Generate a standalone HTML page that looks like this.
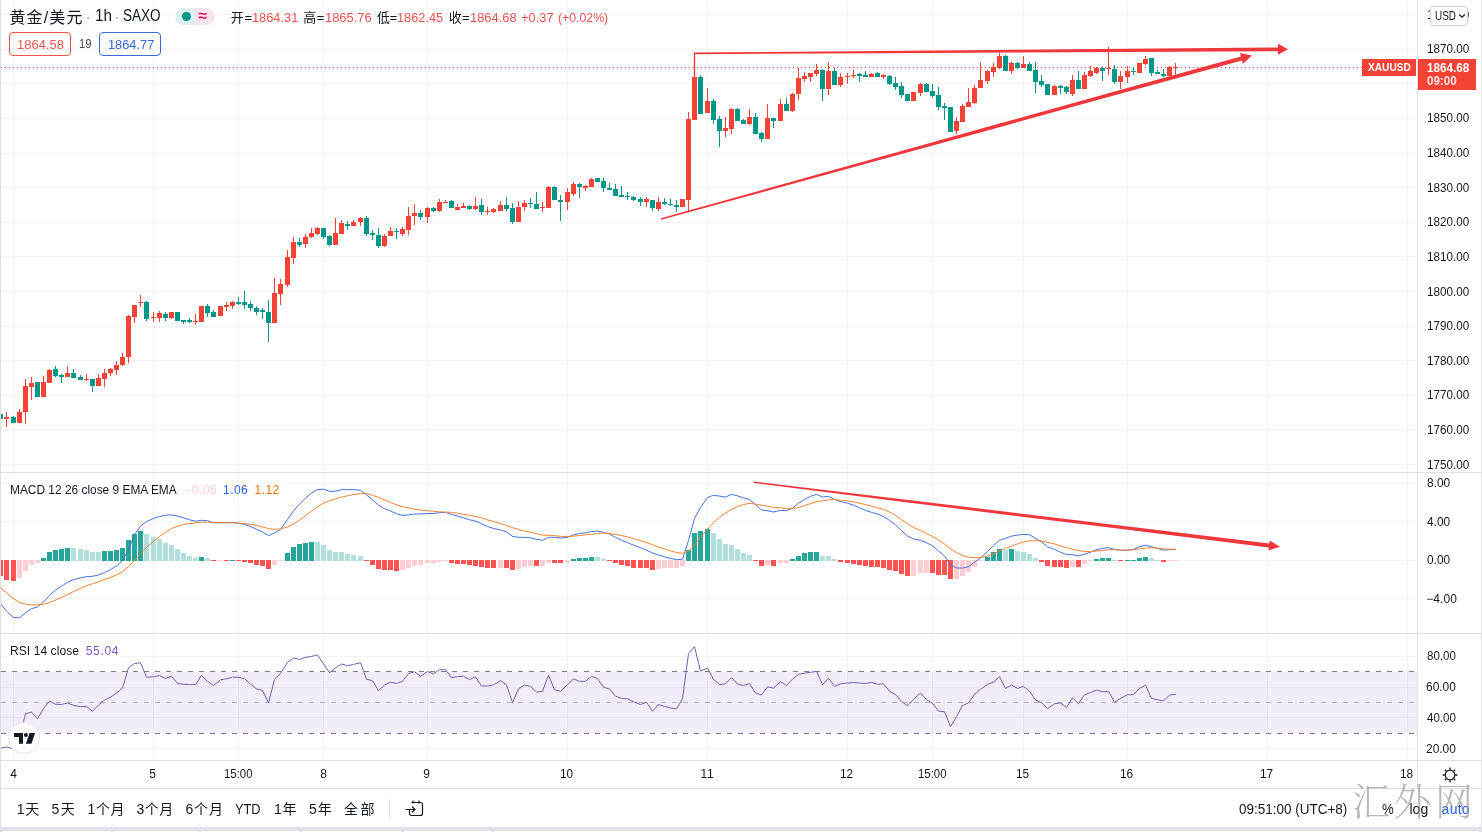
<!DOCTYPE html>
<html lang="zh-CN"><head><meta charset="utf-8"><title>XAUUSD 1h chart</title>
<style>
html,body{margin:0;padding:0;background:#fff;}
body{width:1482px;height:832px;overflow:hidden;position:relative;font-family:"Liberation Sans","Noto Sans CJK SC",sans-serif;color:#131722;}
#chart{position:absolute;left:0;top:0;}
.t{position:absolute;white-space:nowrap;}
.box{position:absolute;box-sizing:border-box;}
</style></head><body>
<svg id="chart" width="1482" height="832" viewBox="0 0 1482 832">
<g shape-rendering="crispEdges">
<rect x="13" y="0" width="1" height="760" fill="#f3f3f4"/>
<rect x="153" y="0" width="1" height="760" fill="#f3f3f4"/>
<rect x="238" y="0" width="1" height="760" fill="#f3f3f4"/>
<rect x="323" y="0" width="1" height="760" fill="#f3f3f4"/>
<rect x="427" y="0" width="1" height="760" fill="#f3f3f4"/>
<rect x="567" y="0" width="1" height="760" fill="#f3f3f4"/>
<rect x="707" y="0" width="1" height="760" fill="#f3f3f4"/>
<rect x="847" y="0" width="1" height="760" fill="#f3f3f4"/>
<rect x="932" y="0" width="1" height="760" fill="#f3f3f4"/>
<rect x="1023" y="0" width="1" height="760" fill="#f3f3f4"/>
<rect x="1127" y="0" width="1" height="760" fill="#f3f3f4"/>
<rect x="1267" y="0" width="1" height="760" fill="#f3f3f4"/>
<rect x="1407" y="0" width="1" height="760" fill="#f3f3f4"/>
<rect x="1" y="464" width="1415" height="1" fill="#f3f3f4"/>
<rect x="1" y="429" width="1415" height="1" fill="#f3f3f4"/>
<rect x="1" y="395" width="1415" height="1" fill="#f3f3f4"/>
<rect x="1" y="360" width="1415" height="1" fill="#f3f3f4"/>
<rect x="1" y="326" width="1415" height="1" fill="#f3f3f4"/>
<rect x="1" y="291" width="1415" height="1" fill="#f3f3f4"/>
<rect x="1" y="256" width="1415" height="1" fill="#f3f3f4"/>
<rect x="1" y="222" width="1415" height="1" fill="#f3f3f4"/>
<rect x="1" y="187" width="1415" height="1" fill="#f3f3f4"/>
<rect x="1" y="153" width="1415" height="1" fill="#f3f3f4"/>
<rect x="1" y="118" width="1415" height="1" fill="#f3f3f4"/>
<rect x="1" y="83" width="1415" height="1" fill="#f3f3f4"/>
<rect x="1" y="49" width="1415" height="1" fill="#f3f3f4"/>
<rect x="1" y="14" width="1415" height="1" fill="#f3f3f4"/>
<rect x="1" y="483" width="1415" height="1" fill="#f3f3f4"/>
<rect x="1" y="521" width="1415" height="1" fill="#f3f3f4"/>
<rect x="1" y="560" width="1415" height="1" fill="#f3f3f4"/>
<rect x="1" y="598" width="1415" height="1" fill="#f3f3f4"/>
<rect x="1" y="656" width="1415" height="1" fill="#f3f3f4"/>
<rect x="1" y="687" width="1415" height="1" fill="#f3f3f4"/>
<rect x="1" y="717" width="1415" height="1" fill="#f3f3f4"/>
<rect x="1" y="748" width="1415" height="1" fill="#f3f3f4"/>
<rect x="1" y="672" width="1416" height="61" fill="#7e57c2" fill-opacity="0.1"/>
</g>
<line x1="1" y1="671.5" x2="1417" y2="671.5" stroke="#787b86" stroke-width="1" stroke-dasharray="5 6" shape-rendering="crispEdges"/>
<line x1="1" y1="702.5" x2="1417" y2="702.5" stroke="#b2b5be" stroke-width="1" stroke-dasharray="5 6" shape-rendering="crispEdges"/>
<line x1="1" y1="733.5" x2="1417" y2="733.5" stroke="#787b86" stroke-width="1" stroke-dasharray="5 6" shape-rendering="crispEdges"/>
<line x1="1" y1="67.5" x2="1417" y2="67.5" stroke="#f44336" stroke-width="1" stroke-dasharray="1 3" shape-rendering="crispEdges"/>
<g shape-rendering="crispEdges">
<rect x="0" y="414" width="1" height="5" fill="#009688"/>
<rect x="1" y="414" width="2" height="5" fill="#009688"/>
<rect x="6" y="412" width="1" height="15" fill="#f44336"/>
<rect x="4" y="417" width="5" height="2" fill="#f44336"/>
<rect x="13" y="416" width="1" height="7" fill="#009688"/>
<rect x="11" y="417" width="5" height="6" fill="#009688"/>
<rect x="19" y="409" width="1" height="14" fill="#f44336"/>
<rect x="17" y="412" width="5" height="11" fill="#f44336"/>
<rect x="25" y="379" width="1" height="45" fill="#f44336"/>
<rect x="23" y="386" width="5" height="26" fill="#f44336"/>
<rect x="31" y="377" width="1" height="23" fill="#f44336"/>
<rect x="29" y="383" width="5" height="4" fill="#f44336"/>
<rect x="37" y="382" width="1" height="15" fill="#009688"/>
<rect x="35" y="382" width="5" height="15" fill="#009688"/>
<rect x="43" y="376" width="1" height="21" fill="#f44336"/>
<rect x="41" y="382" width="5" height="15" fill="#f44336"/>
<rect x="49" y="369" width="1" height="14" fill="#f44336"/>
<rect x="47" y="370" width="5" height="13" fill="#f44336"/>
<rect x="55" y="366" width="1" height="11" fill="#009688"/>
<rect x="53" y="369" width="5" height="7" fill="#009688"/>
<rect x="61" y="374" width="1" height="9" fill="#009688"/>
<rect x="59" y="375" width="5" height="2" fill="#009688"/>
<rect x="67" y="366" width="1" height="11" fill="#f44336"/>
<rect x="65" y="373" width="5" height="4" fill="#f44336"/>
<rect x="73" y="369" width="1" height="9" fill="#009688"/>
<rect x="71" y="373" width="5" height="5" fill="#009688"/>
<rect x="80" y="375" width="1" height="5" fill="#009688"/>
<rect x="78" y="377" width="5" height="3" fill="#009688"/>
<rect x="86" y="374" width="1" height="7" fill="#f44336"/>
<rect x="84" y="379" width="5" height="1" fill="#f44336"/>
<rect x="92" y="379" width="1" height="13" fill="#009688"/>
<rect x="90" y="379" width="5" height="7" fill="#009688"/>
<rect x="98" y="374" width="1" height="12" fill="#f44336"/>
<rect x="96" y="378" width="5" height="8" fill="#f44336"/>
<rect x="104" y="369" width="1" height="18" fill="#f44336"/>
<rect x="102" y="373" width="5" height="6" fill="#f44336"/>
<rect x="110" y="368" width="1" height="8" fill="#f44336"/>
<rect x="108" y="369" width="5" height="4" fill="#f44336"/>
<rect x="116" y="361" width="1" height="14" fill="#f44336"/>
<rect x="114" y="365" width="5" height="5" fill="#f44336"/>
<rect x="122" y="353" width="1" height="13" fill="#f44336"/>
<rect x="120" y="357" width="5" height="8" fill="#f44336"/>
<rect x="128" y="315" width="1" height="48" fill="#f44336"/>
<rect x="126" y="316" width="5" height="41" fill="#f44336"/>
<rect x="134" y="305" width="1" height="18" fill="#f44336"/>
<rect x="132" y="305" width="5" height="12" fill="#f44336"/>
<rect x="140" y="295" width="1" height="12" fill="#f44336"/>
<rect x="138" y="302" width="5" height="1" fill="#f44336"/>
<rect x="146" y="301" width="1" height="20" fill="#009688"/>
<rect x="144" y="302" width="5" height="17" fill="#009688"/>
<rect x="153" y="312" width="1" height="10" fill="#f44336"/>
<rect x="151" y="317" width="5" height="1" fill="#f44336"/>
<rect x="159" y="311" width="1" height="11" fill="#f44336"/>
<rect x="157" y="313" width="5" height="5" fill="#f44336"/>
<rect x="165" y="312" width="1" height="9" fill="#009688"/>
<rect x="163" y="314" width="5" height="4" fill="#009688"/>
<rect x="171" y="312" width="1" height="7" fill="#f44336"/>
<rect x="169" y="312" width="5" height="6" fill="#f44336"/>
<rect x="177" y="312" width="1" height="9" fill="#009688"/>
<rect x="175" y="312" width="5" height="9" fill="#009688"/>
<rect x="183" y="320" width="1" height="4" fill="#009688"/>
<rect x="181" y="320" width="5" height="2" fill="#009688"/>
<rect x="189" y="318" width="1" height="5" fill="#009688"/>
<rect x="187" y="320" width="5" height="2" fill="#009688"/>
<rect x="195" y="314" width="1" height="11" fill="#f44336"/>
<rect x="193" y="321" width="5" height="1" fill="#f44336"/>
<rect x="201" y="306" width="1" height="16" fill="#f44336"/>
<rect x="199" y="306" width="5" height="16" fill="#f44336"/>
<rect x="207" y="304" width="1" height="13" fill="#009688"/>
<rect x="205" y="306" width="5" height="7" fill="#009688"/>
<rect x="213" y="310" width="1" height="7" fill="#009688"/>
<rect x="211" y="312" width="5" height="5" fill="#009688"/>
<rect x="220" y="306" width="1" height="10" fill="#f44336"/>
<rect x="218" y="306" width="5" height="10" fill="#f44336"/>
<rect x="226" y="302" width="1" height="9" fill="#f44336"/>
<rect x="224" y="305" width="5" height="2" fill="#f44336"/>
<rect x="232" y="301" width="1" height="8" fill="#f44336"/>
<rect x="230" y="302" width="5" height="4" fill="#f44336"/>
<rect x="238" y="297" width="1" height="8" fill="#009688"/>
<rect x="236" y="302" width="5" height="2" fill="#009688"/>
<rect x="244" y="291" width="1" height="18" fill="#009688"/>
<rect x="242" y="302" width="5" height="3" fill="#009688"/>
<rect x="250" y="301" width="1" height="10" fill="#009688"/>
<rect x="248" y="304" width="5" height="4" fill="#009688"/>
<rect x="256" y="306" width="1" height="9" fill="#009688"/>
<rect x="254" y="308" width="5" height="4" fill="#009688"/>
<rect x="262" y="308" width="1" height="11" fill="#009688"/>
<rect x="260" y="310" width="5" height="2" fill="#009688"/>
<rect x="268" y="300" width="1" height="42" fill="#009688"/>
<rect x="266" y="312" width="5" height="11" fill="#009688"/>
<rect x="274" y="278" width="1" height="45" fill="#f44336"/>
<rect x="272" y="293" width="5" height="30" fill="#f44336"/>
<rect x="280" y="279" width="1" height="26" fill="#f44336"/>
<rect x="278" y="284" width="5" height="10" fill="#f44336"/>
<rect x="287" y="250" width="1" height="37" fill="#f44336"/>
<rect x="285" y="257" width="5" height="28" fill="#f44336"/>
<rect x="293" y="237" width="1" height="27" fill="#f44336"/>
<rect x="291" y="242" width="5" height="16" fill="#f44336"/>
<rect x="299" y="238" width="1" height="9" fill="#009688"/>
<rect x="297" y="242" width="5" height="3" fill="#009688"/>
<rect x="305" y="234" width="1" height="14" fill="#f44336"/>
<rect x="303" y="237" width="5" height="7" fill="#f44336"/>
<rect x="311" y="228" width="1" height="10" fill="#f44336"/>
<rect x="309" y="233" width="5" height="4" fill="#f44336"/>
<rect x="317" y="227" width="1" height="8" fill="#f44336"/>
<rect x="315" y="228" width="5" height="6" fill="#f44336"/>
<rect x="323" y="228" width="1" height="11" fill="#009688"/>
<rect x="321" y="228" width="5" height="9" fill="#009688"/>
<rect x="329" y="235" width="1" height="11" fill="#009688"/>
<rect x="327" y="236" width="5" height="9" fill="#009688"/>
<rect x="335" y="218" width="1" height="27" fill="#f44336"/>
<rect x="333" y="233" width="5" height="12" fill="#f44336"/>
<rect x="341" y="220" width="1" height="14" fill="#f44336"/>
<rect x="339" y="223" width="5" height="11" fill="#f44336"/>
<rect x="347" y="221" width="1" height="9" fill="#009688"/>
<rect x="345" y="224" width="5" height="2" fill="#009688"/>
<rect x="353" y="220" width="1" height="6" fill="#f44336"/>
<rect x="351" y="222" width="5" height="4" fill="#f44336"/>
<rect x="360" y="217" width="1" height="9" fill="#f44336"/>
<rect x="358" y="218" width="5" height="4" fill="#f44336"/>
<rect x="366" y="216" width="1" height="20" fill="#009688"/>
<rect x="364" y="218" width="5" height="16" fill="#009688"/>
<rect x="372" y="230" width="1" height="10" fill="#009688"/>
<rect x="370" y="233" width="5" height="2" fill="#009688"/>
<rect x="378" y="228" width="1" height="20" fill="#009688"/>
<rect x="376" y="235" width="5" height="11" fill="#009688"/>
<rect x="384" y="234" width="1" height="13" fill="#f44336"/>
<rect x="382" y="236" width="5" height="10" fill="#f44336"/>
<rect x="390" y="227" width="1" height="9" fill="#f44336"/>
<rect x="388" y="231" width="5" height="5" fill="#f44336"/>
<rect x="396" y="228" width="1" height="11" fill="#009688"/>
<rect x="394" y="231" width="5" height="1" fill="#009688"/>
<rect x="402" y="227" width="1" height="9" fill="#f44336"/>
<rect x="400" y="229" width="5" height="5" fill="#f44336"/>
<rect x="408" y="207" width="1" height="28" fill="#f44336"/>
<rect x="406" y="216" width="5" height="14" fill="#f44336"/>
<rect x="414" y="204" width="1" height="21" fill="#f44336"/>
<rect x="412" y="213" width="5" height="3" fill="#f44336"/>
<rect x="420" y="210" width="1" height="10" fill="#009688"/>
<rect x="418" y="213" width="5" height="4" fill="#009688"/>
<rect x="427" y="207" width="1" height="16" fill="#f44336"/>
<rect x="425" y="208" width="5" height="9" fill="#f44336"/>
<rect x="433" y="207" width="1" height="5" fill="#009688"/>
<rect x="431" y="208" width="5" height="3" fill="#009688"/>
<rect x="439" y="199" width="1" height="13" fill="#f44336"/>
<rect x="437" y="202" width="5" height="9" fill="#f44336"/>
<rect x="445" y="200" width="1" height="3" fill="#f44336"/>
<rect x="443" y="202" width="5" height="1" fill="#f44336"/>
<rect x="451" y="200" width="1" height="8" fill="#009688"/>
<rect x="449" y="201" width="5" height="7" fill="#009688"/>
<rect x="457" y="204" width="1" height="6" fill="#f44336"/>
<rect x="455" y="207" width="5" height="3" fill="#f44336"/>
<rect x="463" y="203" width="1" height="5" fill="#f44336"/>
<rect x="461" y="206" width="5" height="2" fill="#f44336"/>
<rect x="469" y="205" width="1" height="5" fill="#009688"/>
<rect x="467" y="206" width="5" height="3" fill="#009688"/>
<rect x="475" y="197" width="1" height="13" fill="#f44336"/>
<rect x="473" y="206" width="5" height="3" fill="#f44336"/>
<rect x="481" y="199" width="1" height="16" fill="#009688"/>
<rect x="479" y="205" width="5" height="7" fill="#009688"/>
<rect x="487" y="207" width="1" height="8" fill="#f44336"/>
<rect x="485" y="211" width="5" height="1" fill="#f44336"/>
<rect x="493" y="208" width="1" height="5" fill="#f44336"/>
<rect x="491" y="209" width="5" height="3" fill="#f44336"/>
<rect x="500" y="201" width="1" height="10" fill="#f44336"/>
<rect x="498" y="205" width="5" height="6" fill="#f44336"/>
<rect x="506" y="197" width="1" height="14" fill="#009688"/>
<rect x="504" y="205" width="5" height="4" fill="#009688"/>
<rect x="512" y="203" width="1" height="21" fill="#009688"/>
<rect x="510" y="208" width="5" height="14" fill="#009688"/>
<rect x="518" y="201" width="1" height="21" fill="#f44336"/>
<rect x="516" y="207" width="5" height="15" fill="#f44336"/>
<rect x="524" y="200" width="1" height="11" fill="#f44336"/>
<rect x="522" y="203" width="5" height="4" fill="#f44336"/>
<rect x="530" y="198" width="1" height="10" fill="#009688"/>
<rect x="528" y="203" width="5" height="1" fill="#009688"/>
<rect x="536" y="192" width="1" height="17" fill="#009688"/>
<rect x="534" y="204" width="5" height="5" fill="#009688"/>
<rect x="542" y="202" width="1" height="10" fill="#f44336"/>
<rect x="540" y="207" width="5" height="1" fill="#f44336"/>
<rect x="548" y="186" width="1" height="22" fill="#f44336"/>
<rect x="546" y="187" width="5" height="21" fill="#f44336"/>
<rect x="554" y="186" width="1" height="14" fill="#009688"/>
<rect x="552" y="187" width="5" height="13" fill="#009688"/>
<rect x="560" y="195" width="1" height="26" fill="#009688"/>
<rect x="558" y="200" width="5" height="2" fill="#009688"/>
<rect x="567" y="188" width="1" height="22" fill="#f44336"/>
<rect x="565" y="192" width="5" height="10" fill="#f44336"/>
<rect x="573" y="182" width="1" height="14" fill="#f44336"/>
<rect x="571" y="184" width="5" height="10" fill="#f44336"/>
<rect x="579" y="183" width="1" height="15" fill="#009688"/>
<rect x="577" y="184" width="5" height="3" fill="#009688"/>
<rect x="585" y="185" width="1" height="6" fill="#f44336"/>
<rect x="583" y="186" width="5" height="2" fill="#f44336"/>
<rect x="591" y="178" width="1" height="9" fill="#f44336"/>
<rect x="589" y="179" width="5" height="8" fill="#f44336"/>
<rect x="597" y="178" width="1" height="4" fill="#009688"/>
<rect x="595" y="178" width="5" height="4" fill="#009688"/>
<rect x="603" y="178" width="1" height="14" fill="#009688"/>
<rect x="601" y="181" width="5" height="7" fill="#009688"/>
<rect x="609" y="183" width="1" height="7" fill="#009688"/>
<rect x="607" y="188" width="5" height="2" fill="#009688"/>
<rect x="615" y="184" width="1" height="12" fill="#009688"/>
<rect x="613" y="189" width="5" height="7" fill="#009688"/>
<rect x="621" y="186" width="1" height="11" fill="#009688"/>
<rect x="619" y="195" width="5" height="2" fill="#009688"/>
<rect x="627" y="192" width="1" height="8" fill="#009688"/>
<rect x="625" y="196" width="5" height="1" fill="#009688"/>
<rect x="633" y="196" width="1" height="5" fill="#009688"/>
<rect x="631" y="197" width="5" height="3" fill="#009688"/>
<rect x="640" y="197" width="1" height="9" fill="#009688"/>
<rect x="638" y="199" width="5" height="3" fill="#009688"/>
<rect x="646" y="197" width="1" height="10" fill="#f44336"/>
<rect x="644" y="199" width="5" height="3" fill="#f44336"/>
<rect x="652" y="200" width="1" height="11" fill="#009688"/>
<rect x="650" y="200" width="5" height="8" fill="#009688"/>
<rect x="658" y="197" width="1" height="14" fill="#f44336"/>
<rect x="656" y="202" width="5" height="7" fill="#f44336"/>
<rect x="664" y="198" width="1" height="7" fill="#009688"/>
<rect x="662" y="202" width="5" height="2" fill="#009688"/>
<rect x="670" y="199" width="1" height="7" fill="#009688"/>
<rect x="668" y="204" width="5" height="1" fill="#009688"/>
<rect x="676" y="200" width="1" height="12" fill="#009688"/>
<rect x="674" y="205" width="5" height="2" fill="#009688"/>
<rect x="682" y="199" width="1" height="8" fill="#f44336"/>
<rect x="680" y="199" width="5" height="8" fill="#f44336"/>
<rect x="688" y="112" width="1" height="100" fill="#f44336"/>
<rect x="686" y="119" width="5" height="81" fill="#f44336"/>
<rect x="694" y="77" width="1" height="43" fill="#f44336"/>
<rect x="692" y="77" width="5" height="43" fill="#f44336"/>
<rect x="700" y="75" width="1" height="39" fill="#009688"/>
<rect x="698" y="77" width="5" height="37" fill="#009688"/>
<rect x="707" y="88" width="1" height="25" fill="#f44336"/>
<rect x="705" y="101" width="5" height="12" fill="#f44336"/>
<rect x="713" y="99" width="1" height="25" fill="#009688"/>
<rect x="711" y="101" width="5" height="19" fill="#009688"/>
<rect x="719" y="116" width="1" height="31" fill="#009688"/>
<rect x="717" y="119" width="5" height="12" fill="#009688"/>
<rect x="725" y="117" width="1" height="20" fill="#f44336"/>
<rect x="723" y="128" width="5" height="3" fill="#f44336"/>
<rect x="731" y="108" width="1" height="26" fill="#f44336"/>
<rect x="729" y="109" width="5" height="20" fill="#f44336"/>
<rect x="737" y="108" width="1" height="13" fill="#009688"/>
<rect x="735" y="109" width="5" height="12" fill="#009688"/>
<rect x="743" y="119" width="1" height="5" fill="#009688"/>
<rect x="741" y="120" width="5" height="4" fill="#009688"/>
<rect x="749" y="109" width="1" height="16" fill="#f44336"/>
<rect x="747" y="117" width="5" height="7" fill="#f44336"/>
<rect x="755" y="113" width="1" height="21" fill="#009688"/>
<rect x="753" y="117" width="5" height="17" fill="#009688"/>
<rect x="761" y="132" width="1" height="10" fill="#009688"/>
<rect x="759" y="133" width="5" height="6" fill="#009688"/>
<rect x="767" y="104" width="1" height="35" fill="#f44336"/>
<rect x="765" y="118" width="5" height="21" fill="#f44336"/>
<rect x="773" y="118" width="1" height="10" fill="#009688"/>
<rect x="771" y="118" width="5" height="3" fill="#009688"/>
<rect x="780" y="99" width="1" height="22" fill="#f44336"/>
<rect x="778" y="104" width="5" height="17" fill="#f44336"/>
<rect x="786" y="98" width="1" height="13" fill="#009688"/>
<rect x="784" y="104" width="5" height="7" fill="#009688"/>
<rect x="792" y="93" width="1" height="19" fill="#f44336"/>
<rect x="790" y="94" width="5" height="17" fill="#f44336"/>
<rect x="798" y="68" width="1" height="32" fill="#f44336"/>
<rect x="796" y="78" width="5" height="16" fill="#f44336"/>
<rect x="804" y="72" width="1" height="10" fill="#f44336"/>
<rect x="802" y="76" width="5" height="3" fill="#f44336"/>
<rect x="810" y="73" width="1" height="9" fill="#f44336"/>
<rect x="808" y="73" width="5" height="4" fill="#f44336"/>
<rect x="816" y="64" width="1" height="12" fill="#f44336"/>
<rect x="814" y="70" width="5" height="4" fill="#f44336"/>
<rect x="822" y="69" width="1" height="32" fill="#009688"/>
<rect x="820" y="70" width="5" height="19" fill="#009688"/>
<rect x="828" y="62" width="1" height="33" fill="#f44336"/>
<rect x="826" y="71" width="5" height="18" fill="#f44336"/>
<rect x="834" y="68" width="1" height="17" fill="#009688"/>
<rect x="832" y="71" width="5" height="14" fill="#009688"/>
<rect x="840" y="73" width="1" height="14" fill="#f44336"/>
<rect x="838" y="77" width="5" height="8" fill="#f44336"/>
<rect x="847" y="73" width="1" height="11" fill="#f44336"/>
<rect x="845" y="76" width="5" height="1" fill="#f44336"/>
<rect x="853" y="70" width="1" height="8" fill="#f44336"/>
<rect x="851" y="75" width="5" height="1" fill="#f44336"/>
<rect x="859" y="73" width="1" height="9" fill="#009688"/>
<rect x="857" y="74" width="5" height="2" fill="#009688"/>
<rect x="865" y="71" width="1" height="6" fill="#009688"/>
<rect x="863" y="75" width="5" height="2" fill="#009688"/>
<rect x="871" y="73" width="1" height="4" fill="#f44336"/>
<rect x="869" y="74" width="5" height="3" fill="#f44336"/>
<rect x="877" y="72" width="1" height="5" fill="#009688"/>
<rect x="875" y="73" width="5" height="4" fill="#009688"/>
<rect x="883" y="74" width="1" height="5" fill="#f44336"/>
<rect x="881" y="75" width="5" height="2" fill="#f44336"/>
<rect x="889" y="75" width="1" height="10" fill="#009688"/>
<rect x="887" y="76" width="5" height="8" fill="#009688"/>
<rect x="895" y="77" width="1" height="13" fill="#009688"/>
<rect x="893" y="83" width="5" height="4" fill="#009688"/>
<rect x="901" y="82" width="1" height="16" fill="#009688"/>
<rect x="899" y="86" width="5" height="9" fill="#009688"/>
<rect x="907" y="94" width="1" height="7" fill="#009688"/>
<rect x="905" y="94" width="5" height="7" fill="#009688"/>
<rect x="913" y="92" width="1" height="9" fill="#f44336"/>
<rect x="911" y="92" width="5" height="9" fill="#f44336"/>
<rect x="920" y="83" width="1" height="13" fill="#f44336"/>
<rect x="918" y="84" width="5" height="9" fill="#f44336"/>
<rect x="926" y="83" width="1" height="9" fill="#009688"/>
<rect x="924" y="84" width="5" height="8" fill="#009688"/>
<rect x="932" y="84" width="1" height="14" fill="#009688"/>
<rect x="930" y="91" width="5" height="5" fill="#009688"/>
<rect x="938" y="87" width="1" height="23" fill="#009688"/>
<rect x="936" y="95" width="5" height="12" fill="#009688"/>
<rect x="944" y="103" width="1" height="17" fill="#009688"/>
<rect x="942" y="106" width="5" height="2" fill="#009688"/>
<rect x="950" y="107" width="1" height="25" fill="#009688"/>
<rect x="948" y="107" width="5" height="25" fill="#009688"/>
<rect x="956" y="117" width="1" height="17" fill="#f44336"/>
<rect x="954" y="121" width="5" height="10" fill="#f44336"/>
<rect x="962" y="104" width="1" height="18" fill="#f44336"/>
<rect x="960" y="106" width="5" height="16" fill="#f44336"/>
<rect x="968" y="88" width="1" height="19" fill="#f44336"/>
<rect x="966" y="102" width="5" height="5" fill="#f44336"/>
<rect x="974" y="85" width="1" height="19" fill="#f44336"/>
<rect x="972" y="88" width="5" height="15" fill="#f44336"/>
<rect x="980" y="62" width="1" height="26" fill="#f44336"/>
<rect x="978" y="80" width="5" height="8" fill="#f44336"/>
<rect x="987" y="70" width="1" height="14" fill="#f44336"/>
<rect x="985" y="71" width="5" height="10" fill="#f44336"/>
<rect x="993" y="63" width="1" height="14" fill="#f44336"/>
<rect x="991" y="67" width="5" height="5" fill="#f44336"/>
<rect x="999" y="52" width="1" height="17" fill="#f44336"/>
<rect x="997" y="56" width="5" height="12" fill="#f44336"/>
<rect x="1005" y="55" width="1" height="16" fill="#009688"/>
<rect x="1003" y="56" width="5" height="15" fill="#009688"/>
<rect x="1011" y="62" width="1" height="12" fill="#f44336"/>
<rect x="1009" y="63" width="5" height="8" fill="#f44336"/>
<rect x="1017" y="62" width="1" height="7" fill="#009688"/>
<rect x="1015" y="63" width="5" height="5" fill="#009688"/>
<rect x="1023" y="56" width="1" height="12" fill="#f44336"/>
<rect x="1021" y="64" width="5" height="4" fill="#f44336"/>
<rect x="1029" y="62" width="1" height="9" fill="#009688"/>
<rect x="1027" y="64" width="5" height="7" fill="#009688"/>
<rect x="1035" y="62" width="1" height="31" fill="#009688"/>
<rect x="1033" y="70" width="5" height="12" fill="#009688"/>
<rect x="1041" y="75" width="1" height="12" fill="#009688"/>
<rect x="1039" y="81" width="5" height="4" fill="#009688"/>
<rect x="1047" y="84" width="1" height="11" fill="#009688"/>
<rect x="1045" y="84" width="5" height="11" fill="#009688"/>
<rect x="1054" y="85" width="1" height="10" fill="#f44336"/>
<rect x="1052" y="86" width="5" height="9" fill="#f44336"/>
<rect x="1060" y="85" width="1" height="9" fill="#009688"/>
<rect x="1058" y="86" width="5" height="2" fill="#009688"/>
<rect x="1066" y="86" width="1" height="8" fill="#009688"/>
<rect x="1064" y="87" width="5" height="5" fill="#009688"/>
<rect x="1072" y="75" width="1" height="21" fill="#f44336"/>
<rect x="1070" y="80" width="5" height="14" fill="#f44336"/>
<rect x="1078" y="71" width="1" height="18" fill="#009688"/>
<rect x="1076" y="80" width="5" height="9" fill="#009688"/>
<rect x="1084" y="72" width="1" height="17" fill="#f44336"/>
<rect x="1082" y="75" width="5" height="14" fill="#f44336"/>
<rect x="1090" y="66" width="1" height="11" fill="#f44336"/>
<rect x="1088" y="71" width="5" height="5" fill="#f44336"/>
<rect x="1096" y="67" width="1" height="7" fill="#f44336"/>
<rect x="1094" y="68" width="5" height="5" fill="#f44336"/>
<rect x="1102" y="67" width="1" height="14" fill="#009688"/>
<rect x="1100" y="68" width="5" height="3" fill="#009688"/>
<rect x="1108" y="47" width="1" height="28" fill="#f44336"/>
<rect x="1106" y="68" width="5" height="1" fill="#f44336"/>
<rect x="1114" y="65" width="1" height="19" fill="#009688"/>
<rect x="1112" y="69" width="5" height="13" fill="#009688"/>
<rect x="1120" y="71" width="1" height="18" fill="#f44336"/>
<rect x="1118" y="76" width="5" height="6" fill="#f44336"/>
<rect x="1127" y="66" width="1" height="17" fill="#f44336"/>
<rect x="1125" y="71" width="5" height="6" fill="#f44336"/>
<rect x="1133" y="67" width="1" height="8" fill="#009688"/>
<rect x="1131" y="71" width="5" height="1" fill="#009688"/>
<rect x="1139" y="63" width="1" height="10" fill="#f44336"/>
<rect x="1137" y="63" width="5" height="10" fill="#f44336"/>
<rect x="1145" y="56" width="1" height="9" fill="#f44336"/>
<rect x="1143" y="59" width="5" height="5" fill="#f44336"/>
<rect x="1151" y="58" width="1" height="18" fill="#009688"/>
<rect x="1149" y="58" width="5" height="15" fill="#009688"/>
<rect x="1157" y="70" width="1" height="4" fill="#009688"/>
<rect x="1155" y="72" width="5" height="2" fill="#009688"/>
<rect x="1163" y="69" width="1" height="8" fill="#009688"/>
<rect x="1161" y="74" width="5" height="2" fill="#009688"/>
<rect x="1169" y="66" width="1" height="10" fill="#f44336"/>
<rect x="1167" y="67" width="5" height="9" fill="#f44336"/>
<rect x="1175" y="63" width="1" height="12" fill="#f44336"/>
<rect x="1173" y="67" width="5" height="1" fill="#f44336"/>
</g>
<g shape-rendering="crispEdges">
<rect x="1" y="560" width="2" height="16" fill="#ff5252"/>
<rect x="4" y="560" width="5" height="20" fill="#ff5252"/>
<rect x="11" y="560" width="5" height="21" fill="#ff5252"/>
<rect x="17" y="560" width="5" height="18" fill="#ffcdd2"/>
<rect x="23" y="560" width="5" height="11" fill="#ffcdd2"/>
<rect x="29" y="560" width="5" height="5" fill="#ffcdd2"/>
<rect x="35" y="560" width="5" height="3" fill="#ffcdd2"/>
<rect x="41" y="558" width="5" height="3" fill="#26a69a"/>
<rect x="47" y="552" width="5" height="9" fill="#26a69a"/>
<rect x="53" y="550" width="5" height="11" fill="#26a69a"/>
<rect x="59" y="549" width="5" height="12" fill="#26a69a"/>
<rect x="65" y="548" width="5" height="13" fill="#26a69a"/>
<rect x="71" y="548" width="5" height="13" fill="#b2dfdb"/>
<rect x="78" y="549" width="5" height="12" fill="#b2dfdb"/>
<rect x="84" y="550" width="5" height="11" fill="#b2dfdb"/>
<rect x="90" y="552" width="5" height="9" fill="#b2dfdb"/>
<rect x="96" y="552" width="5" height="9" fill="#b2dfdb"/>
<rect x="102" y="551" width="5" height="10" fill="#26a69a"/>
<rect x="108" y="551" width="5" height="10" fill="#26a69a"/>
<rect x="114" y="550" width="5" height="11" fill="#26a69a"/>
<rect x="120" y="548" width="5" height="13" fill="#26a69a"/>
<rect x="126" y="540" width="5" height="21" fill="#26a69a"/>
<rect x="132" y="534" width="5" height="27" fill="#26a69a"/>
<rect x="138" y="531" width="5" height="30" fill="#26a69a"/>
<rect x="144" y="534" width="5" height="27" fill="#b2dfdb"/>
<rect x="151" y="537" width="5" height="24" fill="#b2dfdb"/>
<rect x="157" y="539" width="5" height="22" fill="#b2dfdb"/>
<rect x="163" y="543" width="5" height="18" fill="#b2dfdb"/>
<rect x="169" y="545" width="5" height="16" fill="#b2dfdb"/>
<rect x="175" y="549" width="5" height="12" fill="#b2dfdb"/>
<rect x="181" y="553" width="5" height="8" fill="#b2dfdb"/>
<rect x="187" y="556" width="5" height="5" fill="#b2dfdb"/>
<rect x="193" y="558" width="5" height="3" fill="#b2dfdb"/>
<rect x="199" y="557" width="5" height="4" fill="#26a69a"/>
<rect x="205" y="558" width="5" height="3" fill="#b2dfdb"/>
<rect x="211" y="560" width="5" height="1" fill="#ff5252"/>
<rect x="218" y="560" width="5" height="1" fill="#ffcdd2"/>
<rect x="224" y="560" width="5" height="1" fill="#ff5252"/>
<rect x="230" y="560" width="5" height="1" fill="#26a69a"/>
<rect x="236" y="560" width="5" height="1" fill="#ff5252"/>
<rect x="242" y="560" width="5" height="2" fill="#ff5252"/>
<rect x="248" y="560" width="5" height="3" fill="#ff5252"/>
<rect x="254" y="560" width="5" height="5" fill="#ff5252"/>
<rect x="260" y="560" width="5" height="6" fill="#ff5252"/>
<rect x="266" y="560" width="5" height="9" fill="#ff5252"/>
<rect x="272" y="560" width="5" height="5" fill="#ffcdd2"/>
<rect x="278" y="560" width="5" height="1" fill="#ffcdd2"/>
<rect x="285" y="553" width="5" height="8" fill="#26a69a"/>
<rect x="291" y="547" width="5" height="14" fill="#26a69a"/>
<rect x="297" y="544" width="5" height="17" fill="#26a69a"/>
<rect x="303" y="543" width="5" height="18" fill="#26a69a"/>
<rect x="309" y="542" width="5" height="19" fill="#26a69a"/>
<rect x="315" y="542" width="5" height="19" fill="#b2dfdb"/>
<rect x="321" y="545" width="5" height="16" fill="#b2dfdb"/>
<rect x="327" y="550" width="5" height="11" fill="#b2dfdb"/>
<rect x="333" y="552" width="5" height="9" fill="#b2dfdb"/>
<rect x="339" y="552" width="5" height="9" fill="#b2dfdb"/>
<rect x="345" y="554" width="5" height="7" fill="#b2dfdb"/>
<rect x="351" y="555" width="5" height="6" fill="#b2dfdb"/>
<rect x="358" y="556" width="5" height="5" fill="#b2dfdb"/>
<rect x="364" y="560" width="5" height="1" fill="#ff5252"/>
<rect x="370" y="560" width="5" height="5" fill="#ff5252"/>
<rect x="376" y="560" width="5" height="9" fill="#ff5252"/>
<rect x="382" y="560" width="5" height="10" fill="#ff5252"/>
<rect x="388" y="560" width="5" height="10" fill="#ff5252"/>
<rect x="394" y="560" width="5" height="11" fill="#ff5252"/>
<rect x="400" y="560" width="5" height="10" fill="#ffcdd2"/>
<rect x="406" y="560" width="5" height="8" fill="#ffcdd2"/>
<rect x="412" y="560" width="5" height="6" fill="#ffcdd2"/>
<rect x="418" y="560" width="5" height="5" fill="#ffcdd2"/>
<rect x="425" y="560" width="5" height="3" fill="#ffcdd2"/>
<rect x="431" y="560" width="5" height="3" fill="#ffcdd2"/>
<rect x="437" y="560" width="5" height="2" fill="#ffcdd2"/>
<rect x="443" y="560" width="5" height="1" fill="#ffcdd2"/>
<rect x="449" y="560" width="5" height="3" fill="#ff5252"/>
<rect x="455" y="560" width="5" height="4" fill="#ff5252"/>
<rect x="461" y="560" width="5" height="4" fill="#ff5252"/>
<rect x="467" y="560" width="5" height="5" fill="#ff5252"/>
<rect x="473" y="560" width="5" height="6" fill="#ff5252"/>
<rect x="479" y="560" width="5" height="7" fill="#ff5252"/>
<rect x="485" y="560" width="5" height="8" fill="#ff5252"/>
<rect x="491" y="560" width="5" height="8" fill="#ff5252"/>
<rect x="498" y="560" width="5" height="8" fill="#ffcdd2"/>
<rect x="504" y="560" width="5" height="8" fill="#ff5252"/>
<rect x="510" y="560" width="5" height="10" fill="#ff5252"/>
<rect x="516" y="560" width="5" height="9" fill="#ffcdd2"/>
<rect x="522" y="560" width="5" height="7" fill="#ffcdd2"/>
<rect x="528" y="560" width="5" height="6" fill="#ffcdd2"/>
<rect x="534" y="560" width="5" height="6" fill="#ff5252"/>
<rect x="540" y="560" width="5" height="6" fill="#ffcdd2"/>
<rect x="546" y="560" width="5" height="3" fill="#ffcdd2"/>
<rect x="552" y="560" width="5" height="3" fill="#ff5252"/>
<rect x="558" y="560" width="5" height="3" fill="#ff5252"/>
<rect x="565" y="560" width="5" height="2" fill="#ffcdd2"/>
<rect x="571" y="559" width="5" height="2" fill="#26a69a"/>
<rect x="577" y="558" width="5" height="3" fill="#26a69a"/>
<rect x="583" y="558" width="5" height="3" fill="#26a69a"/>
<rect x="589" y="557" width="5" height="4" fill="#26a69a"/>
<rect x="595" y="557" width="5" height="4" fill="#b2dfdb"/>
<rect x="601" y="559" width="5" height="2" fill="#b2dfdb"/>
<rect x="607" y="560" width="5" height="1" fill="#ff5252"/>
<rect x="613" y="560" width="5" height="3" fill="#ff5252"/>
<rect x="619" y="560" width="5" height="5" fill="#ff5252"/>
<rect x="625" y="560" width="5" height="6" fill="#ff5252"/>
<rect x="631" y="560" width="5" height="8" fill="#ff5252"/>
<rect x="638" y="560" width="5" height="8" fill="#ff5252"/>
<rect x="644" y="560" width="5" height="8" fill="#ff5252"/>
<rect x="650" y="560" width="5" height="10" fill="#ff5252"/>
<rect x="656" y="560" width="5" height="9" fill="#ffcdd2"/>
<rect x="662" y="560" width="5" height="8" fill="#ffcdd2"/>
<rect x="668" y="560" width="5" height="8" fill="#ffcdd2"/>
<rect x="674" y="560" width="5" height="8" fill="#ffcdd2"/>
<rect x="680" y="560" width="5" height="6" fill="#ffcdd2"/>
<rect x="686" y="550" width="5" height="11" fill="#26a69a"/>
<rect x="692" y="533" width="5" height="28" fill="#26a69a"/>
<rect x="698" y="531" width="5" height="30" fill="#26a69a"/>
<rect x="705" y="529" width="5" height="32" fill="#26a69a"/>
<rect x="711" y="533" width="5" height="28" fill="#b2dfdb"/>
<rect x="717" y="539" width="5" height="22" fill="#b2dfdb"/>
<rect x="723" y="544" width="5" height="17" fill="#b2dfdb"/>
<rect x="729" y="545" width="5" height="16" fill="#b2dfdb"/>
<rect x="735" y="549" width="5" height="12" fill="#b2dfdb"/>
<rect x="741" y="553" width="5" height="8" fill="#b2dfdb"/>
<rect x="747" y="555" width="5" height="6" fill="#b2dfdb"/>
<rect x="753" y="560" width="5" height="1" fill="#ff5252"/>
<rect x="759" y="560" width="5" height="6" fill="#ff5252"/>
<rect x="765" y="560" width="5" height="5" fill="#ffcdd2"/>
<rect x="771" y="560" width="5" height="6" fill="#ff5252"/>
<rect x="778" y="560" width="5" height="3" fill="#ffcdd2"/>
<rect x="784" y="560" width="5" height="3" fill="#ffcdd2"/>
<rect x="790" y="559" width="5" height="2" fill="#26a69a"/>
<rect x="796" y="556" width="5" height="5" fill="#26a69a"/>
<rect x="802" y="553" width="5" height="8" fill="#26a69a"/>
<rect x="808" y="552" width="5" height="9" fill="#26a69a"/>
<rect x="814" y="552" width="5" height="9" fill="#26a69a"/>
<rect x="820" y="556" width="5" height="5" fill="#b2dfdb"/>
<rect x="826" y="556" width="5" height="5" fill="#b2dfdb"/>
<rect x="832" y="559" width="5" height="2" fill="#b2dfdb"/>
<rect x="838" y="560" width="5" height="2" fill="#ff5252"/>
<rect x="845" y="560" width="5" height="3" fill="#ff5252"/>
<rect x="851" y="560" width="5" height="4" fill="#ff5252"/>
<rect x="857" y="560" width="5" height="5" fill="#ff5252"/>
<rect x="863" y="560" width="5" height="6" fill="#ff5252"/>
<rect x="869" y="560" width="5" height="7" fill="#ff5252"/>
<rect x="875" y="560" width="5" height="7" fill="#ff5252"/>
<rect x="881" y="560" width="5" height="8" fill="#ff5252"/>
<rect x="887" y="560" width="5" height="10" fill="#ff5252"/>
<rect x="893" y="560" width="5" height="11" fill="#ff5252"/>
<rect x="899" y="560" width="5" height="14" fill="#ff5252"/>
<rect x="905" y="560" width="5" height="16" fill="#ff5252"/>
<rect x="911" y="560" width="5" height="16" fill="#ffcdd2"/>
<rect x="918" y="560" width="5" height="13" fill="#ffcdd2"/>
<rect x="924" y="560" width="5" height="13" fill="#ffcdd2"/>
<rect x="930" y="560" width="5" height="13" fill="#ff5252"/>
<rect x="936" y="560" width="5" height="15" fill="#ff5252"/>
<rect x="942" y="560" width="5" height="15" fill="#ff5252"/>
<rect x="948" y="560" width="5" height="19" fill="#ff5252"/>
<rect x="954" y="560" width="5" height="19" fill="#ffcdd2"/>
<rect x="960" y="560" width="5" height="16" fill="#ffcdd2"/>
<rect x="966" y="560" width="5" height="12" fill="#ffcdd2"/>
<rect x="972" y="560" width="5" height="7" fill="#ffcdd2"/>
<rect x="978" y="560" width="5" height="1" fill="#ffcdd2"/>
<rect x="985" y="557" width="5" height="4" fill="#26a69a"/>
<rect x="991" y="552" width="5" height="9" fill="#26a69a"/>
<rect x="997" y="549" width="5" height="12" fill="#26a69a"/>
<rect x="1003" y="550" width="5" height="11" fill="#b2dfdb"/>
<rect x="1009" y="549" width="5" height="12" fill="#26a69a"/>
<rect x="1015" y="551" width="5" height="10" fill="#b2dfdb"/>
<rect x="1021" y="552" width="5" height="9" fill="#b2dfdb"/>
<rect x="1027" y="554" width="5" height="7" fill="#b2dfdb"/>
<rect x="1033" y="558" width="5" height="3" fill="#b2dfdb"/>
<rect x="1039" y="560" width="5" height="2" fill="#ff5252"/>
<rect x="1045" y="560" width="5" height="6" fill="#ff5252"/>
<rect x="1052" y="560" width="5" height="7" fill="#ff5252"/>
<rect x="1058" y="560" width="5" height="7" fill="#ff5252"/>
<rect x="1064" y="560" width="5" height="8" fill="#ff5252"/>
<rect x="1070" y="560" width="5" height="7" fill="#ffcdd2"/>
<rect x="1076" y="560" width="5" height="7" fill="#ff5252"/>
<rect x="1082" y="560" width="5" height="4" fill="#ffcdd2"/>
<rect x="1088" y="560" width="5" height="1" fill="#ffcdd2"/>
<rect x="1094" y="559" width="5" height="2" fill="#26a69a"/>
<rect x="1100" y="558" width="5" height="3" fill="#26a69a"/>
<rect x="1106" y="558" width="5" height="3" fill="#26a69a"/>
<rect x="1112" y="560" width="5" height="1" fill="#b2dfdb"/>
<rect x="1118" y="560" width="5" height="1" fill="#ff5252"/>
<rect x="1125" y="560" width="5" height="1" fill="#26a69a"/>
<rect x="1131" y="560" width="5" height="1" fill="#26a69a"/>
<rect x="1137" y="558" width="5" height="3" fill="#26a69a"/>
<rect x="1143" y="557" width="5" height="4" fill="#26a69a"/>
<rect x="1149" y="558" width="5" height="3" fill="#b2dfdb"/>
<rect x="1155" y="560" width="5" height="1" fill="#b2dfdb"/>
<rect x="1161" y="560" width="5" height="2" fill="#ff5252"/>
<rect x="1167" y="560" width="5" height="1" fill="#ffcdd2"/>
<rect x="1173" y="560" width="5" height="1" fill="#ffcdd2"/>
</g>
<polyline points="0.5,603.7 6.5,611.1 13.5,617.5 19.5,617.8 25.5,612.8 31.5,608.7 37.5,607.0 43.5,602.0 49.5,595.4 55.5,590.1 61.5,586.2 67.5,582.4 73.5,579.6 80.5,577.9 86.5,576.6 92.5,576.3 98.5,575.0 104.5,572.6 110.5,569.6 116.5,566.0 122.5,560.5 128.5,549.7 134.5,534.8 140.5,526.1 146.5,521.5 153.5,518.5 159.5,516.5 165.5,515.2 171.5,514.9 177.5,516.0 183.5,517.8 189.5,519.8 195.5,521.2 201.5,520.3 207.5,520.7 213.5,522.8 220.5,522.8 226.5,522.7 232.5,522.7 238.5,523.2 244.5,524.5 250.5,526.5 256.5,529.3 262.5,532.0 268.5,535.6 274.5,533.1 280.5,529.5 287.5,519.5 293.5,510.7 299.5,504.1 305.5,498.3 311.5,492.9 317.5,489.6 323.5,489.1 329.5,491.3 335.5,491.3 341.5,489.6 347.5,489.6 353.5,489.6 360.5,490.3 366.5,494.9 372.5,499.9 378.5,505.2 384.5,508.6 390.5,511.0 396.5,513.7 402.5,515.4 408.5,514.9 414.5,514.0 420.5,514.0 427.5,513.5 433.5,513.5 439.5,512.7 445.5,512.4 451.5,514.4 457.5,516.0 463.5,517.8 469.5,519.8 475.5,521.0 481.5,523.7 487.5,526.5 493.5,528.6 500.5,529.8 506.5,532.0 512.5,536.4 518.5,537.3 524.5,537.3 530.5,537.8 536.5,539.3 542.5,540.3 548.5,537.3 554.5,537.3 560.5,538.1 567.5,537.3 573.5,534.8 579.5,533.5 585.5,532.8 591.5,531.5 597.5,531.1 603.5,532.3 609.5,534.0 615.5,537.3 621.5,540.3 627.5,542.7 633.5,545.2 640.5,547.7 646.5,550.2 652.5,553.0 658.5,555.0 664.5,556.9 670.5,558.4 676.5,559.7 682.5,559.2 688.5,540.6 694.5,518.5 700.5,507.4 707.5,497.4 713.5,495.3 719.5,496.1 725.5,497.1 731.5,494.4 737.5,495.8 743.5,497.9 749.5,499.4 755.5,504.6 761.5,509.9 767.5,510.7 773.5,512.0 780.5,510.4 786.5,510.7 792.5,508.2 798.5,503.2 804.5,499.4 810.5,496.3 816.5,494.4 822.5,497.1 828.5,496.3 834.5,499.4 840.5,501.6 847.5,503.2 853.5,505.2 859.5,507.7 865.5,510.4 871.5,512.4 877.5,514.0 883.5,516.5 889.5,520.3 895.5,524.8 901.5,530.6 907.5,536.1 913.5,538.9 920.5,540.3 926.5,542.7 932.5,545.9 938.5,550.9 944.5,556.0 950.5,564.7 956.5,568.0 962.5,568.0 968.5,566.8 974.5,562.2 980.5,558.0 987.5,551.4 993.5,545.6 999.5,540.3 1005.5,538.4 1011.5,536.1 1017.5,535.1 1023.5,534.3 1029.5,534.8 1035.5,538.4 1041.5,541.8 1047.5,546.9 1054.5,549.4 1060.5,552.2 1066.5,554.7 1072.5,554.7 1078.5,555.9 1084.5,554.2 1090.5,552.2 1096.5,549.7 1102.5,548.4 1108.5,547.6 1114.5,549.4 1120.5,550.2 1127.5,550.1 1133.5,549.4 1139.5,546.7 1145.5,545.2 1151.5,546.7 1157.5,548.4 1163.5,550.1 1169.5,549.7 1175.5,549.4" fill="none" stroke="#4470e0" stroke-width="1.0" stroke-linejoin="round" stroke-linecap="round"/>
<polyline points="0.5,587.9 6.5,592.9 13.5,598.7 19.5,602.5 25.5,604.2 31.5,605.0 37.5,604.8 43.5,604.2 49.5,602.5 55.5,600.0 61.5,597.5 67.5,594.5 73.5,591.6 80.5,588.2 86.5,585.7 92.5,583.8 98.5,581.6 104.5,579.6 110.5,577.4 116.5,575.0 122.5,571.8 128.5,566.7 134.5,560.5 140.5,553.9 146.5,547.2 153.5,541.4 159.5,536.4 165.5,532.3 171.5,528.6 177.5,526.1 183.5,524.5 189.5,523.5 195.5,522.8 201.5,522.3 207.5,522.0 213.5,522.3 220.5,522.7 226.5,522.7 232.5,522.7 238.5,523.2 244.5,523.5 250.5,524.3 256.5,525.3 262.5,527.0 268.5,528.5 274.5,529.3 280.5,529.0 287.5,527.0 293.5,524.0 299.5,520.2 305.5,515.7 311.5,511.0 317.5,506.6 323.5,503.2 329.5,500.8 335.5,498.8 341.5,497.1 347.5,495.8 353.5,494.6 360.5,493.6 366.5,493.6 372.5,495.3 378.5,497.4 384.5,499.9 390.5,502.4 396.5,504.9 402.5,506.6 408.5,507.9 414.5,509.1 420.5,510.0 427.5,510.7 433.5,511.2 439.5,511.9 445.5,512.0 451.5,512.4 457.5,513.2 463.5,514.4 469.5,515.4 475.5,516.5 481.5,517.8 487.5,519.8 493.5,521.5 500.5,523.5 506.5,525.3 512.5,527.6 518.5,529.5 524.5,531.0 530.5,532.3 536.5,533.6 542.5,535.1 548.5,535.3 554.5,535.6 560.5,536.4 567.5,536.4 573.5,536.1 579.5,535.6 585.5,534.8 591.5,534.3 597.5,533.5 603.5,533.1 609.5,533.5 615.5,534.4 621.5,535.6 627.5,536.9 633.5,538.6 640.5,540.6 646.5,542.6 652.5,544.7 658.5,546.9 664.5,548.9 670.5,550.9 676.5,552.5 682.5,553.5 688.5,551.0 694.5,545.1 700.5,537.3 707.5,529.3 713.5,522.7 719.5,517.4 725.5,512.9 731.5,509.4 737.5,506.6 743.5,504.6 749.5,503.2 755.5,504.1 761.5,505.2 767.5,506.2 773.5,507.4 780.5,507.9 786.5,508.6 792.5,508.7 798.5,507.4 804.5,505.7 810.5,503.6 816.5,501.6 822.5,500.8 828.5,499.9 834.5,499.6 840.5,500.3 847.5,500.8 853.5,501.9 859.5,503.2 865.5,504.6 871.5,506.1 877.5,507.7 883.5,509.4 889.5,512.0 895.5,515.4 901.5,519.8 907.5,524.0 913.5,527.3 920.5,530.6 926.5,533.5 932.5,536.4 938.5,539.8 944.5,543.9 950.5,548.9 956.5,552.5 962.5,555.5 968.5,557.2 974.5,557.7 980.5,557.5 987.5,556.0 993.5,553.9 999.5,551.0 1005.5,548.4 1011.5,546.1 1017.5,543.9 1023.5,541.9 1029.5,540.9 1035.5,540.6 1041.5,540.9 1047.5,542.3 1054.5,543.9 1060.5,545.9 1066.5,547.7 1072.5,549.2 1078.5,550.6 1084.5,551.4 1090.5,551.7 1096.5,551.0 1102.5,550.6 1108.5,549.7 1114.5,549.7 1120.5,550.1 1127.5,550.1 1133.5,549.7 1139.5,548.9 1145.5,548.1 1151.5,547.7 1157.5,548.1 1163.5,548.9 1169.5,549.2 1175.5,549.2" fill="none" stroke="#f2832e" stroke-width="1.0" stroke-linejoin="round" stroke-linecap="round"/>
<polyline points="0.5,748.2 6.5,747.0 13.5,748.7 19.5,738.2 25.5,713.8 31.5,712.0 37.5,718.8 43.5,708.4 49.5,701.2 55.5,704.2 61.5,704.5 67.5,703.0 73.5,705.4 80.5,706.7 86.5,706.4 92.5,711.3 98.5,705.0 104.5,700.1 110.5,697.1 116.5,693.1 122.5,688.1 128.5,667.7 134.5,663.5 140.5,662.7 146.5,677.2 153.5,676.8 159.5,675.5 165.5,678.5 171.5,676.3 177.5,683.5 183.5,684.3 189.5,684.6 195.5,684.6 201.5,675.5 207.5,681.3 213.5,685.5 220.5,679.8 226.5,678.8 232.5,677.2 238.5,677.3 244.5,678.8 250.5,684.0 256.5,688.8 262.5,690.4 268.5,703.0 274.5,679.3 280.5,673.5 287.5,662.2 293.5,658.1 299.5,659.4 305.5,657.4 311.5,656.4 317.5,654.9 323.5,663.9 329.5,672.7 335.5,668.0 341.5,664.0 347.5,665.7 353.5,664.4 360.5,662.7 366.5,679.3 372.5,680.6 378.5,690.6 384.5,685.1 390.5,682.1 396.5,683.5 402.5,681.3 408.5,673.5 414.5,671.8 420.5,676.3 427.5,671.5 433.5,673.8 439.5,669.7 445.5,669.7 451.5,677.7 457.5,676.5 463.5,676.3 469.5,679.6 475.5,676.8 481.5,686.0 487.5,686.0 493.5,684.8 500.5,680.6 506.5,684.8 512.5,702.6 518.5,688.9 524.5,685.1 530.5,686.3 536.5,692.1 542.5,691.3 548.5,675.2 554.5,689.8 560.5,691.3 567.5,684.8 573.5,679.0 579.5,681.3 585.5,681.3 591.5,676.3 597.5,678.5 603.5,687.3 609.5,688.9 615.5,696.2 621.5,698.4 627.5,698.9 633.5,701.7 640.5,704.5 646.5,702.1 652.5,711.3 658.5,704.5 664.5,706.4 670.5,708.0 676.5,708.9 682.5,698.9 688.5,653.6 694.5,646.6 700.5,671.0 707.5,668.2 713.5,679.3 719.5,684.6 725.5,683.8 731.5,677.7 737.5,684.0 743.5,685.5 749.5,683.5 755.5,692.9 761.5,695.1 767.5,686.8 773.5,688.1 780.5,681.8 786.5,685.5 792.5,679.3 798.5,674.3 804.5,673.2 810.5,672.3 816.5,671.3 822.5,684.8 828.5,678.1 834.5,686.3 840.5,683.8 847.5,683.0 853.5,682.6 859.5,683.1 865.5,683.5 871.5,682.3 877.5,684.3 883.5,683.8 889.5,691.3 895.5,694.6 901.5,701.4 907.5,705.9 913.5,699.2 920.5,693.1 926.5,699.6 932.5,703.4 938.5,711.2 944.5,711.7 950.5,726.6 956.5,716.7 962.5,705.5 968.5,703.0 974.5,694.3 980.5,689.3 987.5,684.3 993.5,682.1 999.5,676.8 1005.5,688.4 1011.5,685.1 1017.5,688.4 1023.5,686.4 1029.5,690.9 1035.5,700.1 1041.5,702.6 1047.5,708.7 1054.5,703.7 1060.5,703.0 1066.5,707.5 1072.5,697.9 1078.5,703.7 1084.5,694.7 1090.5,692.6 1096.5,690.1 1102.5,691.8 1108.5,691.3 1114.5,702.2 1120.5,698.4 1127.5,694.7 1133.5,694.7 1139.5,688.4 1145.5,685.1 1151.5,698.4 1157.5,699.7 1163.5,700.9 1169.5,695.1 1175.5,694.3" fill="none" stroke="#7560b0" stroke-width="1.0" stroke-linejoin="round" stroke-linecap="round"/>
<line x1="694.5" y1="53" x2="694.5" y2="77" stroke="#f0383c" stroke-width="1.3"/>
<polygon points="694.0,54.2 880.0,53.2 1126.0,51.9 1278.0,51.2 1278.0,54.8 1288.0,49.2 1278.0,43.8 1278.0,47.4 1126.0,48.8 880.0,51.0 694.0,52.6" fill="#f0383c"/>
<polygon points="661.2,219.7 850.4,168.1 1000.5,126.9 1126.5,92.1 1241.9,60.4 1242.9,63.7 1252.0,55.5 1239.9,53.1 1240.9,56.5 1125.5,88.6 999.5,123.6 849.6,165.4 660.8,218.3" fill="#f0383c"/>
<polygon points="753.4,482.9 899.9,501.4 999.8,513.9 1125.8,529.6 1268.8,547.4 1268.5,550.4 1280.0,546.8 1269.7,540.5 1269.3,543.5 1126.2,526.2 1000.2,511.0 900.1,499.0 753.6,481.5" fill="#f0383c"/>
<g shape-rendering="crispEdges">
<rect x="0" y="472" width="1482" height="1" fill="#e0e0e3"/>
<rect x="0" y="633" width="1482" height="1" fill="#e0e0e3"/>
<rect x="0" y="760" width="1482" height="1" fill="#e0e0e3"/>
<rect x="0" y="788" width="1482" height="1" fill="#e0e0e3"/>
<rect x="1417" y="0" width="1" height="788" fill="#e0e0e3"/>
<rect x="0" y="0" width="1" height="827" fill="#e0e0e3"/>
<rect x="1481" y="0" width="1" height="827" fill="#e0e0e3"/>
</g>
</svg>
<div class="t" style="left:1427.0px;top:7.2px;font-size:12px;line-height:16px;color:#131722;transform:scaleX(0.971);transform-origin:0 50%;">1880.00</div>

<div class="box" style="left:1362px;top:59px;width:54px;height:17px;background:#f44336;"></div>
<div class="box" style="left:1418px;top:59px;width:58px;height:31px;background:#f44336;"></div>
<div class="box" style="left:1430px;top:6px;width:38px;height:20px;background:#fff;border:1px solid #d1d4dc;border-radius:4px;"></div>
<svg class="box" style="left:1458px;top:13px" width="8" height="6" viewBox="0 0 8 6"><path d="M1.2 1.5 L4 4.2 L6.8 1.5" fill="none" stroke="#131722" stroke-width="1.3"/></svg>
<div class="box" style="left:175px;top:8px;width:40px;height:17px;border-radius:9px;background:linear-gradient(90deg,#e0f2f0 0,#e0f2f0 50%,#fce4ec 50%,#fce4ec 100%);"></div>
<div class="box" style="left:182px;top:12px;width:9px;height:9px;border-radius:5px;background:#009688;"></div>
<div class="t" style="left:198.5px;top:7px;font-size:16px;line-height:18px;font-weight:700;color:#d81b60;">≈</div>
<div class="box" style="left:9px;top:32px;width:62px;height:24px;border:1px solid #ef5350;border-radius:4px;"></div>
<div class="box" style="left:99px;top:32px;width:62px;height:24px;border:1px solid #3f6bd8;border-radius:4px;"></div>
<div class="box" style="left:8px;top:482px;width:274px;height:17px;background:rgba(255,255,255,.85);"></div>
<div class="box" style="left:8px;top:642px;width:114px;height:17px;background:rgba(255,255,255,.85);"></div>
<div class="box" style="left:0;top:827px;width:1482px;height:5px;background:#e1e2e8;"></div>
<div class="box" style="left:3px;top:831px;width:107px;height:1px;background:#fff;"></div>
<div class="box" style="left:113px;top:831px;width:86px;height:1px;background:#fff;"></div>
<div class="box" style="left:202px;top:831px;width:97px;height:1px;background:#fff;"></div>
<div class="box" style="left:302px;top:831px;width:99px;height:1px;background:#fff;"></div>
<div class="box" style="left:404px;top:831px;width:87px;height:1px;background:#fff;"></div>
<div class="box" style="left:494px;top:831px;width:984px;height:1px;background:#fff;"></div>
<div class="box" style="left:389px;top:799px;width:1px;height:20px;background:#e0e3eb;"></div>
<svg class="box" style="left:404px;top:798px" width="21" height="21" viewBox="0 0 21 21" fill="none" stroke="#131722" stroke-width="1.2"><path d="M7.5 4.5h9a2 2 0 0 1 2 2v9a2 2 0 0 1-2 2h-9a2 2 0 0 1-2-2v-3.5"/><path d="M9 2.5v3M15 2.5v3"/><path d="M1.5 11.5h9M8 8.5l3 3-3 3"/></svg>
<svg class="box" style="left:1439.5px;top:764.7px" width="20" height="20" viewBox="0 0 20 20" fill="none" stroke="#131722" stroke-width="1.3"><circle cx="10" cy="10" r="4.8"/><path d="M10 2.6v2.2M10 15.2v2.2M2.6 10h2.2M15.2 10h2.2M4.8 4.8l1.5 1.5M13.7 13.7l1.5 1.5M4.8 15.2l1.5-1.5M13.7 6.3l1.5-1.5"/></svg>
<div class="box" style="left:8px;top:722px;width:32px;height:32px;border-radius:16px;background:#fff;border:1px solid #e4e4e6;"></div>
<svg class="box" style="left:8px;top:722px" width="32" height="32" viewBox="8 722 32 32" fill="#131722"><path d="M14 733h9v10.7h-4v-6.7h-5z"/><circle cx="25.9" cy="735" r="2"/><path d="M29.6 733h5.5l-3.7 10.7h-5.5z"/></svg>

<div class="t" style="left:1427.0px;top:457.2px;font-size:12px;line-height:16px;color:#131722;transform:scaleX(0.971);transform-origin:0 50%;">1750.00</div>
<div class="t" style="left:1427.0px;top:422.2px;font-size:12px;line-height:16px;color:#131722;transform:scaleX(0.971);transform-origin:0 50%;">1760.00</div>
<div class="t" style="left:1427.0px;top:387.2px;font-size:12px;line-height:16px;color:#131722;transform:scaleX(0.971);transform-origin:0 50%;">1770.00</div>
<div class="t" style="left:1427.0px;top:353.2px;font-size:12px;line-height:16px;color:#131722;transform:scaleX(0.971);transform-origin:0 50%;">1780.00</div>
<div class="t" style="left:1427.0px;top:318.2px;font-size:12px;line-height:16px;color:#131722;transform:scaleX(0.971);transform-origin:0 50%;">1790.00</div>
<div class="t" style="left:1427.0px;top:284.2px;font-size:12px;line-height:16px;color:#131722;transform:scaleX(0.971);transform-origin:0 50%;">1800.00</div>
<div class="t" style="left:1427.0px;top:249.2px;font-size:12px;line-height:16px;color:#131722;transform:scaleX(0.971);transform-origin:0 50%;">1810.00</div>
<div class="t" style="left:1427.0px;top:214.2px;font-size:12px;line-height:16px;color:#131722;transform:scaleX(0.971);transform-origin:0 50%;">1820.00</div>
<div class="t" style="left:1427.0px;top:180.2px;font-size:12px;line-height:16px;color:#131722;transform:scaleX(0.971);transform-origin:0 50%;">1830.00</div>
<div class="t" style="left:1427.0px;top:145.2px;font-size:12px;line-height:16px;color:#131722;transform:scaleX(0.971);transform-origin:0 50%;">1840.00</div>
<div class="t" style="left:1427.0px;top:110.2px;font-size:12px;line-height:16px;color:#131722;transform:scaleX(0.971);transform-origin:0 50%;">1850.00</div>
<div class="t" style="left:1427.0px;top:41.2px;font-size:12px;line-height:16px;color:#131722;transform:scaleX(0.971);transform-origin:0 50%;">1870.00</div>
<div class="t" style="left:1427.2px;top:474.5px;font-size:12px;line-height:16px;color:#131722;transform:scaleX(0.991);transform-origin:0 50%;">8.00</div>
<div class="t" style="left:1427.2px;top:513.5px;font-size:12px;line-height:16px;color:#131722;transform:scaleX(0.991);transform-origin:0 50%;">4.00</div>
<div class="t" style="left:1427.2px;top:551.7px;font-size:12px;line-height:16px;color:#131722;transform:scaleX(0.991);transform-origin:0 50%;">0.00</div>
<div class="t" style="left:1426.2px;top:590.5px;font-size:12px;line-height:16px;color:#131722;letter-spacing:0.12px;">−4.00</div>
<div class="t" style="left:1427.3px;top:647.6px;font-size:12px;line-height:16px;color:#131722;transform:scaleX(0.960);transform-origin:0 50%;">80.00</div>
<div class="t" style="left:1426.3px;top:678.5px;font-size:12px;line-height:16px;color:#131722;transform:scaleX(0.993);transform-origin:0 50%;">60.00</div>
<div class="t" style="left:1427.3px;top:709.5px;font-size:12px;line-height:16px;color:#131722;transform:scaleX(0.960);transform-origin:0 50%;">40.00</div>
<div class="t" style="left:1426.3px;top:740.5px;font-size:12px;line-height:16px;color:#131722;transform:scaleX(0.993);transform-origin:0 50%;">20.00</div>
<div class="t" style="left:10.3px;top:766.2px;font-size:12px;line-height:16px;color:#131722;">4</div>
<div class="t" style="left:149.3px;top:766.2px;font-size:12px;line-height:16px;color:#131722;letter-spacing:1.00px;">5</div>
<div class="t" style="left:223.6px;top:766.2px;font-size:12px;line-height:16px;color:#131722;transform:scaleX(0.948);transform-origin:0 50%;">15:00</div>
<div class="t" style="left:320.3px;top:766.2px;font-size:12px;line-height:16px;color:#131722;">8</div>
<div class="t" style="left:423.3px;top:766.2px;font-size:12px;line-height:16px;color:#131722;letter-spacing:1.00px;">9</div>
<div class="t" style="left:560.4px;top:766.2px;font-size:12px;line-height:16px;color:#131722;transform:scaleX(0.983);transform-origin:0 50%;">10</div>
<div class="t" style="left:700.4px;top:766.2px;font-size:12px;line-height:16px;color:#131722;letter-spacing:0.80px;">11</div>
<div class="t" style="left:840.4px;top:766.2px;font-size:12px;line-height:16px;color:#131722;transform:scaleX(0.983);transform-origin:0 50%;">12</div>
<div class="t" style="left:917.6px;top:766.2px;font-size:12px;line-height:16px;color:#131722;transform:scaleX(0.948);transform-origin:0 50%;">15:00</div>
<div class="t" style="left:1016.4px;top:766.2px;font-size:12px;line-height:16px;color:#131722;transform:scaleX(0.983);transform-origin:0 50%;">15</div>
<div class="t" style="left:1120.4px;top:766.2px;font-size:12px;line-height:16px;color:#131722;transform:scaleX(0.983);transform-origin:0 50%;">16</div>
<div class="t" style="left:1260.4px;top:766.2px;font-size:12px;line-height:16px;color:#131722;transform:scaleX(0.983);transform-origin:0 50%;">17</div>
<div class="t" style="left:1400.4px;top:766.2px;font-size:12px;line-height:16px;color:#131722;transform:scaleX(0.983);transform-origin:0 50%;">18</div>
<div class="t" style="left:9.4px;top:8.3px;font-size:16px;line-height:20px;color:#131722;letter-spacing:1.15px;">黄金/美元</div>
<div class="t" style="left:85.5px;top:7.6px;font-size:16px;line-height:20px;color:#9598a1;letter-spacing:0.50px;">·</div>
<div class="t" style="left:94.7px;top:6.1px;font-size:16px;line-height:20px;color:#131722;transform:scaleX(0.956);transform-origin:0 50%;">1h</div>
<div class="t" style="left:114.2px;top:7.6px;font-size:16px;line-height:20px;color:#9598a1;letter-spacing:0.50px;">·</div>
<div class="t" style="left:122.8px;top:6.1px;font-size:16px;line-height:20px;color:#131722;transform:scaleX(0.847);transform-origin:0 50%;">SAXO</div>
<div class="t" style="left:230.7px;top:8.8px;font-size:13px;line-height:17px;color:#131722;letter-spacing:0.90px;">开=</div>
<div class="t" style="left:251.7px;top:8.8px;font-size:13px;line-height:17px;color:#ef5350;transform:scaleX(0.984);transform-origin:0 50%;">1864.31</div>
<div class="t" style="left:303.3px;top:8.8px;font-size:13px;line-height:17px;color:#131722;letter-spacing:0.50px;">高=</div>
<div class="t" style="left:324.5px;top:8.8px;font-size:13px;line-height:17px;color:#ef5350;transform:scaleX(0.993);transform-origin:0 50%;">1865.76</div>
<div class="t" style="left:377.1px;top:8.8px;font-size:13px;line-height:17px;color:#131722;transform:scaleX(0.985);transform-origin:0 50%;">低=</div>
<div class="t" style="left:397.3px;top:8.8px;font-size:13px;line-height:17px;color:#ef5350;transform:scaleX(0.982);transform-origin:0 50%;">1862.45</div>
<div class="t" style="left:448.7px;top:8.8px;font-size:13px;line-height:17px;color:#131722;letter-spacing:0.40px;">收=</div>
<div class="t" style="left:469.6px;top:8.8px;font-size:13px;line-height:17px;color:#ef5350;transform:scaleX(0.993);transform-origin:0 50%;">1864.68</div>
<div class="t" style="left:521.0px;top:8.8px;font-size:13px;line-height:17px;color:#ef5350;transform:scaleX(0.990);transform-origin:0 50%;">+0.37</div>
<div class="t" style="left:557.6px;top:8.8px;font-size:13px;line-height:17px;color:#ef5350;transform:scaleX(0.945);transform-origin:0 50%;">(+0.02%)</div>
<div class="t" style="left:16.7px;top:35.7px;font-size:13px;line-height:17px;color:#ef5350;transform:scaleX(0.998);transform-origin:0 50%;">1864.58</div>
<div class="t" style="left:78.6px;top:36.2px;font-size:12px;line-height:16px;color:#434651;transform:scaleX(0.933);transform-origin:0 50%;">19</div>
<div class="t" style="left:107.6px;top:35.7px;font-size:13px;line-height:17px;color:#3566dc;transform:scaleX(0.984);transform-origin:0 50%;">1864.77</div>
<div class="t" style="left:9.9px;top:482.2px;font-size:12px;line-height:16px;color:#131722;transform:scaleX(0.992);transform-origin:0 50%;">MACD 12 26 close 9 EMA EMA</div>
<div class="t" style="left:183.8px;top:482.2px;font-size:12px;line-height:16px;color:#ffcdd2;letter-spacing:0.70px;">−0.06</div>
<div class="t" style="left:223.1px;top:482.2px;font-size:12px;line-height:16px;color:#2962ff;letter-spacing:0.40px;">1.06</div>
<div class="t" style="left:254.6px;top:482.2px;font-size:12px;line-height:16px;color:#ff6d00;letter-spacing:0.40px;">1.12</div>
<div class="t" style="left:9.9px;top:642.7px;font-size:12px;line-height:16px;color:#131722;letter-spacing:0.10px;">RSI 14 close</div>
<div class="t" style="left:85.8px;top:642.7px;font-size:12px;line-height:16px;color:#7e57c2;letter-spacing:0.65px;">55.04</div>
<div class="t" style="left:1367.6px;top:60.1px;font-size:11px;line-height:15px;color:#fff;transform:scaleX(0.922);transform-origin:0 50%;font-weight:700;">XAUUSD</div>
<div class="t" style="left:1427.0px;top:59.6px;font-size:12px;line-height:16px;color:#fff;transform:scaleX(0.971);transform-origin:0 50%;font-weight:700;">1864.68</div>
<div class="t" style="left:1427.3px;top:73.3px;font-size:12px;line-height:16px;color:#fde3e1;transform:scaleX(0.963);transform-origin:0 50%;font-weight:700;">09:00</div>
<div class="t" style="left:1434.7px;top:8.3px;font-size:12px;line-height:16px;color:#131722;transform:scaleX(0.825);transform-origin:0 50%;">USD</div>
<div class="t" style="left:16.7px;top:800.2px;font-size:14px;line-height:18px;color:#131722;letter-spacing:0.80px;">1天</div>
<div class="t" style="left:51.6px;top:800.2px;font-size:14px;line-height:18px;color:#131722;letter-spacing:1.30px;">5天</div>
<div class="t" style="left:87.6px;top:800.2px;font-size:14px;line-height:18px;color:#131722;letter-spacing:0.60px;">1个月</div>
<div class="t" style="left:136.5px;top:800.2px;font-size:14px;line-height:18px;color:#131722;letter-spacing:0.45px;">3个月</div>
<div class="t" style="left:185.4px;top:800.2px;font-size:14px;line-height:18px;color:#131722;letter-spacing:0.85px;">6个月</div>
<div class="t" style="left:235.1px;top:800.2px;font-size:14px;line-height:18px;color:#131722;transform:scaleX(0.911);transform-origin:0 50%;">YTD</div>
<div class="t" style="left:274.0px;top:800.2px;font-size:14px;line-height:18px;color:#131722;letter-spacing:0.60px;">1年</div>
<div class="t" style="left:309.0px;top:800.2px;font-size:14px;line-height:18px;color:#131722;letter-spacing:1.00px;">5年</div>
<div class="t" style="left:344.0px;top:800.2px;font-size:14px;line-height:18px;color:#131722;letter-spacing:2.40px;">全部</div>
<div class="t" style="left:1239.3px;top:800.2px;font-size:14px;line-height:18px;color:#131722;transform:scaleX(0.963);transform-origin:0 50%;">09:51:00 (UTC+8)</div>
<div class="t" style="left:1382.3px;top:800.2px;font-size:14px;line-height:18px;color:#131722;transform:scaleX(0.942);transform-origin:0 50%;">%</div>
<div class="t" style="left:1409.5px;top:800.2px;font-size:14px;line-height:18px;color:#131722;">log</div>
<div class="t" style="left:1441.6px;top:800.2px;font-size:14px;line-height:18px;color:#2962ff;letter-spacing:0.27px;">auto</div>
<div class="t" style="left:1352px;top:783px;font-size:38px;line-height:38px;letter-spacing:3.5px;color:#8e8e8e;font-weight:300;font-family:'Liberation Serif','Noto Serif CJK SC',serif;opacity:.62;">汇外网</div>
</body></html>
